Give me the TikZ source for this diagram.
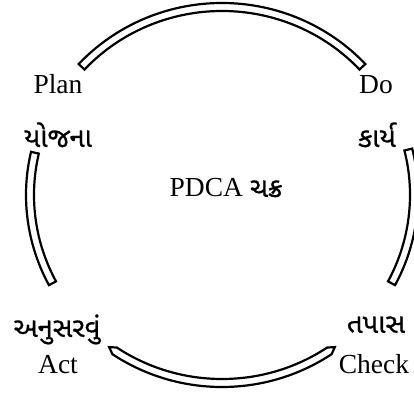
\documentclass[tikz,border=0pt]{standalone}
\usepackage{fontspec}
\setmainfont{Liberation Serif}
\newfontfamily\gujfont[Script=Gujarati,FakeBold=0.6]{Noto Sans Gujarati UI}
\begin{document}
\begin{tikzpicture}[x=1pt,y=1pt,
  band/.style={draw=black,fill=white,line width=2.2pt,line join=miter},
  lat/.style={font=\fontsize{27.5}{30}\selectfont,anchor=base,inner sep=0pt},
  guj/.style={font=\gujfont\fontsize{27.5}{30}\selectfont,anchor=base,inner sep=0pt}]
\useasboundingbox (0,0) rectangle (414,404);
\def\cx{222}\def\cy{209}
\def\orx{196}\def\ory{192}\def\irx{188}\def\iry{184}
% top arc
\draw[band] ({\cx+\orx*cos(43)},{\cy+\ory*sin(43)}) arc[start angle=43,end angle=137,x radius=196pt,y radius=192pt]
  -- ({\cx+\irx*cos(137)},{\cy+\iry*sin(137)}) arc[start angle=137,end angle=43,x radius=188pt,y radius=184pt] -- cycle;
% right arc
\draw[band] ({\cx+\orx*cos(-28)},{\cy+\ory*sin(-28)}) arc[start angle=-28,end angle=14,x radius=196pt,y radius=192pt]
  -- ({\cx+\irx*cos(14)},{\cy+\iry*sin(14)}) arc[start angle=14,end angle=-28,x radius=188pt,y radius=184pt] -- cycle;
% left arc
\draw[band] ({\cx+\orx*cos(167)},{\cy+\ory*sin(167)}) arc[start angle=167,end angle=208,x radius=196pt,y radius=192pt]
  -- ({\cx+\irx*cos(208)},{\cy+\iry*sin(208)}) arc[start angle=208,end angle=167,x radius=188pt,y radius=184pt] -- cycle;
% bottom arc with pointed ends
\draw[band] ({\cx+\orx*cos(236)},{\cy+\ory*sin(236)}) arc[start angle=236,end angle=304,x radius=196pt,y radius=192pt]
  -- ({\cx+192*cos(306)},{\cy+188*sin(306)})
  -- ({\cx+\irx*cos(304)},{\cy+\iry*sin(304)}) arc[start angle=304,end angle=236,x radius=188pt,y radius=184pt]
  -- ({\cx+192*cos(234)},{\cy+188*sin(234)}) -- cycle;
% labels
\node[lat] (plan) at (58,310) {Plan};
\node[guj] (yojana) at (58,257) {યોજના};
\node[lat] (do) at (376,310) {Do};
\node[guj] (karya) at (377,257) {કાર્ય};
\node[lat] (center) at (226,207) {PDCA {\gujfont\fontsize{27.5}{30}\selectfont ચક્ર}};
\node[guj] (anusar) at (57,67) {અનુસરવું};
\node[lat] (act) at (58,31) {Act};
\node[guj] (tapas) at (376,71) {તપાસ};
\node[lat] (check) at (374,31) {Check};
\end{tikzpicture}
\end{document}
